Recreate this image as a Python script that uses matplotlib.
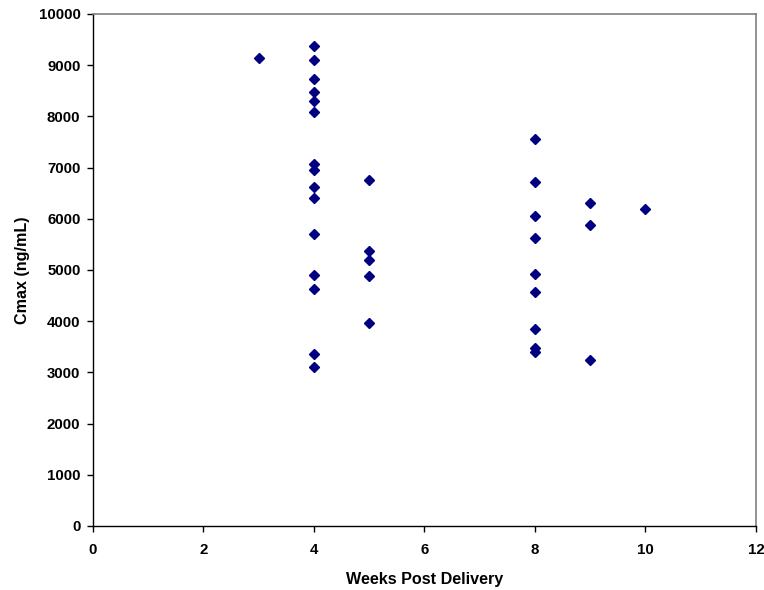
import matplotlib
matplotlib.use('Agg')
import matplotlib.pyplot as plt

plt.rcParams['font.family'] = ['Liberation Sans', 'DejaVu Sans']

# weeks post delivery and Cmax values
weeks = [3,
         4, 4, 4, 4, 4, 4, 4, 4, 4, 4, 4, 4, 4, 4, 4,
         5, 5, 5, 5, 5,
         8, 8, 8, 8, 8, 8, 8, 8, 8,
         9, 9, 9,
         10]
cmax = [9140,
        9370, 9100, 8730, 8470, 8310, 8090, 7070, 6950, 6630, 6410, 5710, 4900, 4630, 3360, 3110,
        6750, 5380, 5200, 4890, 3960,
        7560, 6720, 6060, 5630, 4930, 4570, 3850, 3480, 3400,
        6310, 5870, 3240,
        6200]

fig = plt.figure(figsize=(7.64, 5.90), dpi=100)
ax = fig.add_axes([0.1217, 0.1085, 0.8678, 0.8678])

ax.plot(weeks, cmax, 'D', color='#000080', markersize=4.8, linestyle='none')

ax.set_xlim(0, 12)
ax.set_ylim(0, 10000)
ax.set_xticks(range(0, 13, 2))
ax.set_yticks(range(0, 10001, 1000))

for side in ['top', 'right']:
    ax.spines[side].set_color('#808080')
    ax.spines[side].set_linewidth(1.2)
for side in ['left', 'bottom']:
    ax.spines[side].set_color('black')
    ax.spines[side].set_linewidth(1.0)

ax.tick_params(direction='out', length=4, width=1, labelsize=10.8)
ax.tick_params(axis='x', pad=8)
ax.tick_params(axis='y', pad=5)
for lab in ax.get_xticklabels() + ax.get_yticklabels():
    lab.set_fontweight('bold')

ax.set_xlabel('Weeks Post Delivery', fontsize=11.6, fontweight='bold', labelpad=11)
ax.set_ylabel('Cmax (ng/mL)', fontsize=11.6, fontweight='bold', labelpad=6)

fig.savefig('out.png', dpi=100)
